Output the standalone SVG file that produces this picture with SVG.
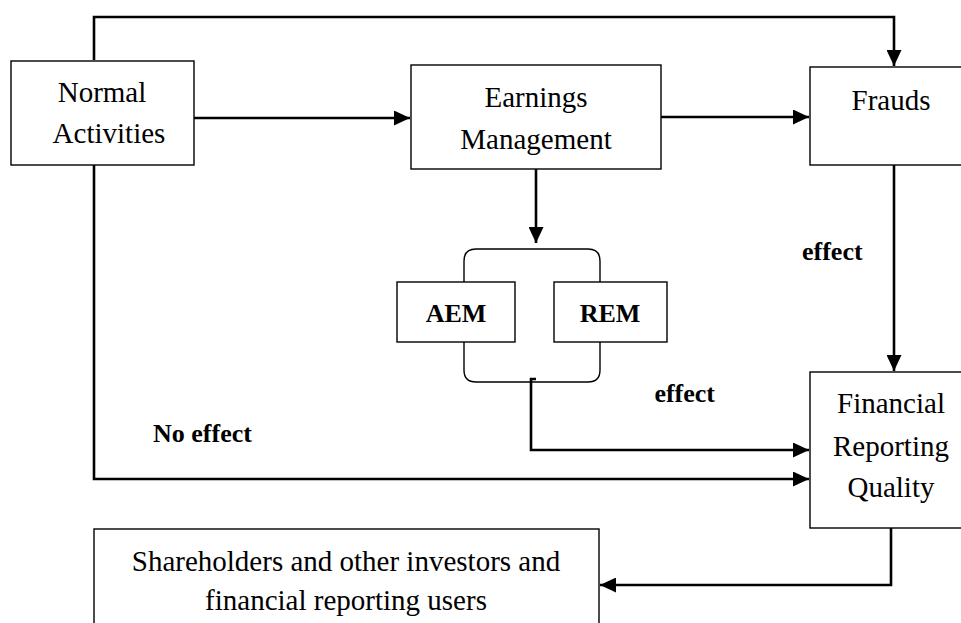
<svg xmlns="http://www.w3.org/2000/svg" width="961" height="623" viewBox="0 0 961 623">
<defs>
<marker id="ah" markerUnits="userSpaceOnUse" markerWidth="16" markerHeight="15" refX="16" refY="7.5" orient="auto">
<path d="M0,0 L16,7.5 L0,15 Z" fill="#000"/>
</marker>
<style>
.box{fill:#fff;stroke:#000;stroke-width:1.4}
.t{font-family:"Liberation Serif","Times New Roman",serif;font-size:29px;fill:#000;text-anchor:middle}
.b{font-family:"Liberation Serif","Times New Roman",serif;font-size:26px;font-weight:bold;fill:#000}
.c{fill:none;stroke:#000;stroke-width:2.6}
.br{fill:none;stroke:#000;stroke-width:1.4}
</style>
</defs>
<rect width="961" height="623" fill="#fff"/>
<g id="connectors">
<path class="c" d="M94,60 V17 H894 V66" marker-end="url(#ah)"/>
<path class="c" d="M194,118 H410" marker-end="url(#ah)"/>
<path class="c" d="M661,117 H809" marker-end="url(#ah)"/>
<path class="c" d="M536,169 V243" marker-end="url(#ah)"/>
<path class="c" d="M894,165 V371" marker-end="url(#ah)"/>
<path class="c" d="M94,165 V479 H809" marker-end="url(#ah)"/>
<path class="c" d="M536,379 H531 V450 H809" marker-end="url(#ah)"/>
<path class="c" d="M891,528 V585 H600" marker-end="url(#ah)"/>
</g>
<g id="bracket">
<path class="br" d="M464,282 V261 Q464,249 476,249 H588 Q600,249 600,261 V282"/>
<path class="br" d="M464,342 V370 Q464,382 476,382 H588 Q600,382 600,370 V342"/>
</g>
<g id="normal-activities">
<rect class="box" x="11" y="61" width="183" height="104"/>
<text class="t" x="102" y="102">Normal</text>
<text class="t" x="109" y="143">Activities</text>
</g>
<g id="earnings-management">
<rect class="box" x="411" y="65" width="250" height="104"/>
<text class="t" x="536" y="107">Earnings</text>
<text class="t" x="536" y="149">Management</text>
</g>
<g id="frauds">
<rect class="box" x="810" y="67" width="170" height="98"/>
<text class="t" x="891" y="110">Frauds</text>
</g>
<g id="aem">
<rect class="box" x="397" y="282" width="118" height="60"/>
<text class="b" x="456" y="322" text-anchor="middle">AEM</text>
</g>
<g id="rem">
<rect class="box" x="554" y="282" width="113" height="60"/>
<text class="b" x="610" y="322" text-anchor="middle">REM</text>
</g>
<g id="financial-reporting-quality">
<rect class="box" x="810" y="372" width="170" height="156"/>
<text class="t" x="891" y="413">Financial</text>
<text class="t" x="891" y="456">Reporting</text>
<text class="t" x="891" y="497">Quality</text>
</g>
<g id="shareholders">
<rect class="box" x="94" y="529" width="505" height="110"/>
<text class="t" x="346" y="571">Shareholders and other investors and</text>
<text class="t" x="346" y="610">financial reporting users</text>
</g>
<g id="labels">
<text class="b" x="802" y="260">effect</text>
<text class="b" x="715" y="402" text-anchor="end">effect</text>
<text class="b" x="153" y="442">No effect</text>
</g>
</svg>
